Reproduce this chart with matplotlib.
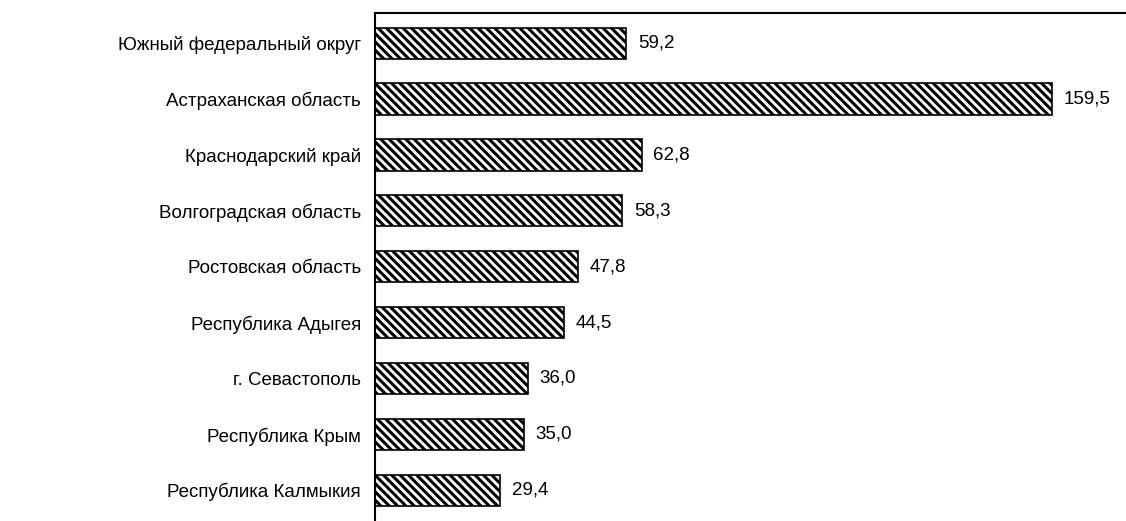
import matplotlib.pyplot as plt
import matplotlib as mpl

plt.rcParams['font.family'] = ['Liberation Sans', 'DejaVu Sans']
mpl.rcParams['hatch.linewidth'] = 2.2

# Data
regions = [
    'Южный федеральный округ',
    'Астраханская область',
    'Краснодарский край',
    'Волгоградская область',
    'Ростовская область',
    'Республика Адыгея',
    'г. Севастополь',
    'Республика Крым',
    'Республика Калмыкия',
]
values = [59.2, 159.5, 62.8, 58.3, 47.8, 44.5, 36.0, 35.0, 29.4]
value_labels = ['59,2', '159,5', '62,8', '58,3', '47,8', '44,5', '36,0', '35,0', '29,4']

fig = plt.figure(figsize=(11.26, 5.21), dpi=100)
ax = fig.add_axes([0.333, 0.0, 0.667, 0.975])

y = list(range(len(regions)))
ax.barh(y, values, height=0.56, color='white', edgecolor='black',
        hatch='\\\\\\\\', linewidth=1.2)

for yi, v, lab in zip(y, values, value_labels):
    ax.annotate(lab, (v, yi), xytext=(8.5, 0), textcoords='offset points',
                va='center', ha='left', fontsize=13.5)

ax.set_yticks(y)
ax.set_yticklabels(regions, fontsize=13.5)
ax.tick_params(axis='y', length=0, pad=10)
ax.set_xticks([])
ax.set_xlim(0, 176.9)
ax.set_ylim(8.55, -0.54)

ax.spines['right'].set_visible(False)
ax.spines['bottom'].set_visible(False)
ax.spines['left'].set_linewidth(1.5)
ax.spines['top'].set_linewidth(1.5)

plt.savefig('out.png', dpi=100)
